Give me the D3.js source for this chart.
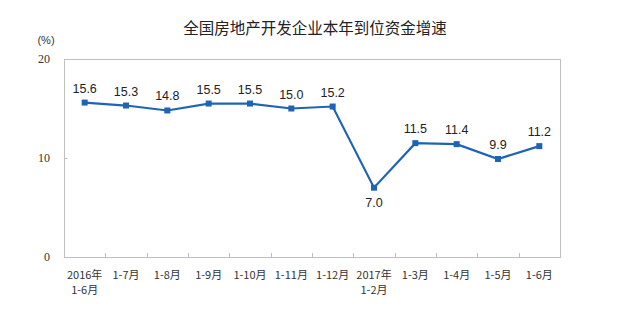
<!DOCTYPE html>
<meta charset="utf-8">
<script src="https://d3js.org/d3.v7.min.js"></script>
<style>
  body { margin: 0; background: #fff; }
  text { font-family: "Liberation Sans", Arial, sans-serif; }
  .cjk { font-family: "Noto Sans CJK SC", sans-serif; }
</style>
<div id="my_dataviz"></div>
<script>

// categories (first line / second line) and values
var months = ["2016年", "1-7月", "1-8月", "1-9月", "1-10月", "1-11月", "1-12月", "2017年", "1-3月", "1-4月", "1-5月", "1-6月"];
var subLabels = ["1-6月", "", "", "", "", "", "", "1-2月", "", "", "", ""];
var growth = [15.6, 15.3, 14.8, 15.5, 15.5, 15.0, 15.2, 7.0, 11.5, 11.4, 9.9, 11.2];
var yTicks = [0, 10, 20];

var W = 617, H = 333;
var margin = {top: 59, right: 57, bottom: 76, left: 64},
    width = W - margin.left - margin.right,
    height = H - margin.top - margin.bottom;

var svg = d3.select("#my_dataviz")
  .append("svg")
    .attr("width", W)
    .attr("height", H);

// title
svg.append("text")
  .attr("class", "cjk")
  .attr("x", 315)
  .attr("y", 34)
  .attr("text-anchor", "middle")
  .style("font-size", "15.5px")
  .attr("fill", "#222")
  .text("全国房地产开发企业本年到位资金增速");

svg.append("text")
  .attr("x", 46)
  .attr("y", 44)
  .attr("text-anchor", "middle")
  .style("font-size", "11px")
  .attr("fill", "#333")
  .text("(%)");

var g = svg.append("g")
  .attr("transform", "translate(" + margin.left + "," + margin.top + ")");

var x = d3.scaleBand()
  .domain(months.map(function(d, i) { return i; }))
  .range([0, width]);

var y = d3.scaleLinear()
  .domain([0, 20])
  .range([height, 0]);

// plot frame
g.append("rect")
  .attr("x", 0.5)
  .attr("y", 0.5)
  .attr("width", width)
  .attr("height", height)
  .attr("fill", "none")
  .attr("stroke", "#bfbfbf");

// Y axis
var yAxis = g.append("g")
  .call(d3.axisLeft(y).tickValues(yTicks).tickSize(-3).tickPadding(14).tickFormat(d3.format("d")));
yAxis.select(".domain").remove();
yAxis.selectAll("line").attr("stroke", "#bfbfbf").attr("transform", "translate(0.5,0)");
yAxis.selectAll("text").style("font-size", "12px").attr("fill", "#333")
  .style("font-family", "'Liberation Serif', serif");

// X axis ticks at band boundaries (inward)
g.selectAll(".xtick")
  .data(d3.range(1, months.length))
  .enter().append("line")
    .attr("x1", function(i) { return Math.round(x(i)) + 0.5; })
    .attr("x2", function(i) { return Math.round(x(i)) + 0.5; })
    .attr("y1", height)
    .attr("y2", height - 4)
    .attr("stroke", "#bfbfbf");

g.selectAll(".xlab")
  .data(months)
  .enter().append("text")
    .attr("class", "cjk")
    .attr("x", function(d, i) { return x(i) + x.bandwidth() / 2; })
    .attr("y", height + 22)
    .attr("text-anchor", "middle")
    .style("font-size", "11px")
    .attr("fill", "#333")
    .text(function(d) { return d; });

g.selectAll(".xlab2")
  .data(subLabels)
  .enter().append("text")
    .attr("class", "cjk")
    .attr("x", function(d, i) { return x(i) + x.bandwidth() / 2; })
    .attr("y", height + 37)
    .attr("text-anchor", "middle")
    .style("font-size", "11px")
    .attr("fill", "#333")
    .text(function(d) { return d; });

// line
var line = d3.line()
  .x(function(d, i) { return x(i) + x.bandwidth() / 2; })
  .y(function(d) { return y(d); });

g.append("path")
  .datum(growth)
  .attr("fill", "none")
  .attr("stroke", "#1f64b4")
  .attr("stroke-width", 2.2)
  .attr("d", line);

g.selectAll(".pt")
  .data(growth)
  .enter().append("rect")
    .attr("x", function(d, i) { return x(i) + x.bandwidth() / 2 - 3; })
    .attr("y", function(d) { return y(d) - 3; })
    .attr("width", 6)
    .attr("height", 6)
    .attr("fill", "#1f64b4");

g.selectAll(".val")
  .data(growth)
  .enter().append("text")
    .attr("x", function(d, i) { return x(i) + x.bandwidth() / 2; })
    .attr("y", function(d, i) { return i === 7 ? y(d) + 19 : y(d) - 10; })
    .attr("text-anchor", "middle")
    .style("font-size", "12.5px")
    .attr("fill", "#222")
    .text(function(d) { return d3.format(".1f")(d); });

</script>
